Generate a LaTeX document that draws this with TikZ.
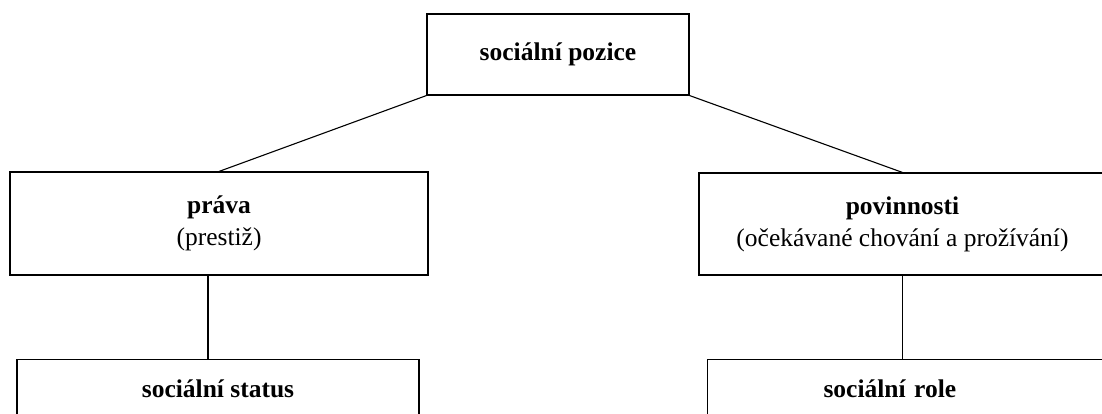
\documentclass[tikz,border=0pt]{standalone}
\usepackage{fontspec}
\setmainfont{Liberation Serif}

\begin{document}
\begin{tikzpicture}[x=1pt, y=-1pt,
every edge/.style = {draw=black, line width=1.1pt},
   box/.style args = {#1/#2}{%
      rectangle, draw, line width=1.1pt, align=center, inner sep=0pt,
      minimum width=#1, minimum height=#2,
      font=\fontsize{25.5}{32}\selectfont},
lowbox/.style = {%
      rectangle, draw, line width=1.1pt, inner ysep=0pt,
      text height=38pt, text depth=40pt,
      font=\fontsize{25.5}{32}\selectfont\bfseries}
                    ]
\useasboundingbox (0,0) rectangle (1102,414);
\clip (0,0) rectangle (1102,414);
\node(pozice) [box=262pt/81pt] at (558,54.5) {\textbf{sociální pozice}};
\node(prava) [box=418pt/103pt] at (219,223.5) {\textbf{práva}\\(prestiž)};
\node(povinnosti) [box=407pt/102pt] at (902.5,224)
      {\textbf{povinnosti}\\(očekávané chování a prožívání)};
\node(status) [lowbox, anchor=north, minimum width=402pt] at (218,359) {sociální status};
\node(role) [lowbox, anchor=north west, align=left, text width=300pt,
      inner xsep=116pt] at (707,359) {sociální role};
%
\path   (pozice.south west) edge (prava.north)
        (pozice.south east) edge (povinnosti.north)
        ([xshift=-11pt]prava.south) edge ([xshift=-11pt]prava.south |- status.north)
        (povinnosti.south) edge (povinnosti.south |- role.north);
\end{tikzpicture}
\end{document}
